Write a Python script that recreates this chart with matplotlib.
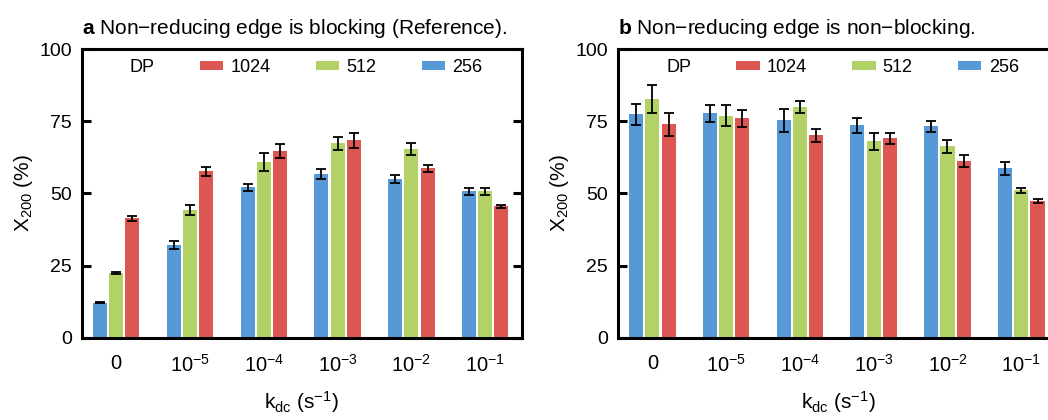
import numpy as np
import matplotlib
matplotlib.use('Agg')
import matplotlib.pyplot as plt
from matplotlib.patches import Patch

plt.rcParams['font.family'] = 'Liberation Sans'
plt.rcParams['mathtext.fontset'] = 'custom'
plt.rcParams['mathtext.rm'] = 'Liberation Sans'
plt.rcParams['mathtext.it'] = 'Liberation Sans:italic'
plt.rcParams['mathtext.bf'] = 'Liberation Sans:bold'

# k_dc categories
kdc_labels = ['0', '$10^{-5}$', '$10^{-4}$', '$10^{-3}$', '$10^{-2}$', '$10^{-1}$']
dp_labels = ['256', '512', '1024']
colors = ['#5699d6', '#b2d267', '#dc5752']

# panel a: non-reducing edge blocking
a_256 = [12.1, 32.0, 52.1, 56.6, 54.9, 50.7]
a_512 = [22.4, 44.2, 60.8, 67.3, 65.3, 50.7]
a_1024 = [41.4, 57.6, 64.6, 68.4, 58.7, 45.5]
a_256_err = [0.2, 1.4, 1.1, 1.7, 1.4, 1.3]
a_512_err = [0.2, 1.7, 3.1, 2.1, 2.1, 1.2]
a_1024_err = [0.9, 1.7, 2.4, 2.5, 1.3, 0.6]

# panel b: non-reducing edge non-blocking
b_256 = [77.4, 77.7, 75.3, 73.6, 73.2, 58.7]
b_512 = [82.6, 77.0, 80.1, 68.0, 66.3, 51.1]
b_1024 = [73.9, 76.0, 70.1, 69.1, 61.2, 47.3]
b_256_err = [3.7, 3.1, 4.0, 2.6, 2.0, 2.3]
b_512_err = [4.9, 3.6, 2.1, 2.9, 2.3, 0.8]
b_1024_err = [4.0, 3.0, 2.2, 2.0, 2.1, 0.7]

panels = [
    ('a', ' Non\u2212reducing edge is blocking (Reference).',
     [a_256, a_512, a_1024], [a_256_err, a_512_err, a_1024_err]),
    ('b', ' Non\u2212reducing edge is non\u2212blocking.',
     [b_256, b_512, b_1024], [b_256_err, b_512_err, b_1024_err]),
]

fig = plt.figure(figsize=(10.48, 4.2), dpi=100)
ax_pos = [[0.0778, 0.196, 0.4203, 0.687], [0.5894, 0.196, 0.4203, 0.687]]

x = np.arange(len(kdc_labels))
offsets = [-0.22, 0.0, 0.22]

for pos, (letter, title, vals, errs) in zip(ax_pos, panels):
    ax = fig.add_axes(pos)
    bars = []
    for off, v, e, c, lab in zip(offsets, vals, errs, colors, dp_labels):
        b = ax.bar(x + off, v, width=0.19, color=c, yerr=e, label=lab,
                   error_kw=dict(ecolor='black', elinewidth=1.3, capsize=3.5, capthick=1.3))
        bars.append(b)
    ax.set_xlim(-0.47, 5.5)
    ax.set_ylim(0, 100)
    ax.set_yticks([0, 25, 50, 75, 100])
    ax.set_xticks(x)
    ax.set_xticklabels(kdc_labels)
    ax.tick_params(axis='y', direction='in', length=6.5, width=2.2, right=True,
                   labelsize=14, pad=7)
    ax.tick_params(axis='x', length=0, labelsize=14.5, pad=12)
    for sp in ax.spines.values():
        sp.set_linewidth(2.2)
    ax.set_ylabel('X$_{200}$ (%)', fontsize=15, labelpad=3)
    ax.set_xlabel('k$_{\\mathregular{dc}}$ (s$^{-1}$)', fontsize=15, labelpad=9)
    ax.set_title('$\\mathbf{' + letter + '}$' + title, loc='left', fontsize=15, pad=11)

    dummy = Patch(facecolor='none', edgecolor='none')
    handles = [dummy, bars[2], bars[1], bars[0]]
    labels = ['DP', '1024', '512', '256']
    ax.legend(handles, labels, ncol=4, loc='center left',
              bbox_to_anchor=(0.04, 0.937), frameon=False, fontsize=13,
              handlelength=1.3, handleheight=0.4, handletextpad=0.4,
              columnspacing=2.5, borderpad=0, borderaxespad=0)

fig.savefig('out.png', dpi=100)
